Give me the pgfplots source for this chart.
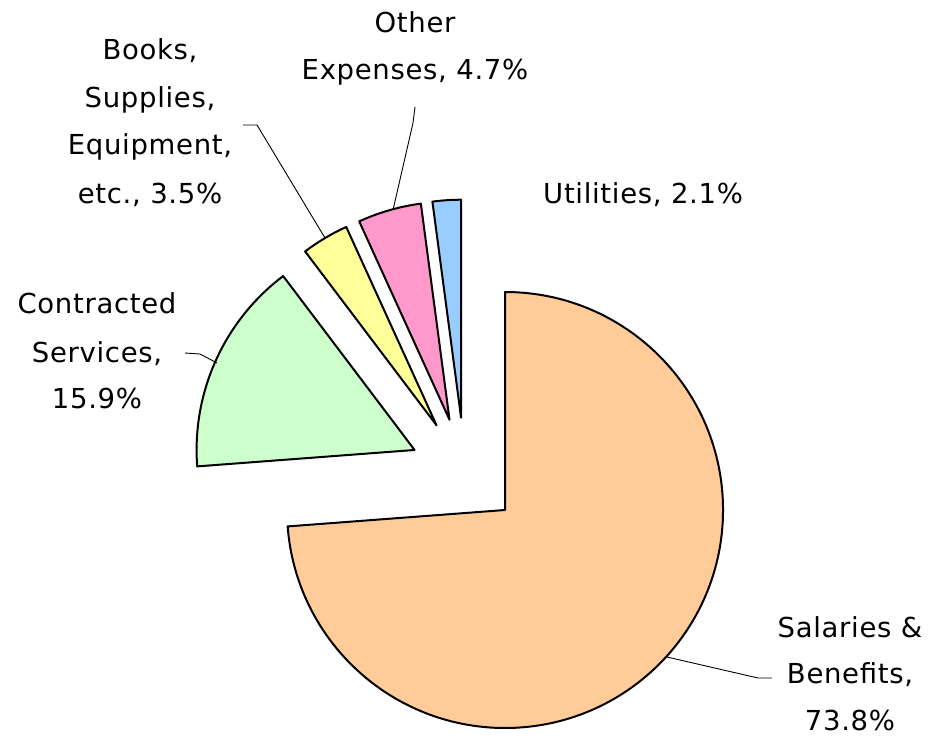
\documentclass[border=0pt]{standalone}
\usepackage{pgfplots}
\pgfplotsset{compat=1.18}
\usepackage{fontspec}
\setmainfont[LetterSpace=2.5]{DejaVu Sans}
\definecolor{salcol}{HTML}{FFCC99}
\definecolor{concol}{HTML}{CCFFCC}
\definecolor{bookcol}{HTML}{FFFF99}
\definecolor{othcol}{HTML}{FF99CC}
\definecolor{utilcol}{HTML}{99CCFF}
% cumulative-before (%), share (%), colour
\newcommand\slice[3]{%
  \pgfmathsetmacro\aS{90-3.6*#1}%
  \pgfmathsetmacro\aE{90-3.6*(#1+#2)}%
  \pgfmathsetmacro\aM{(\aS+\aE)/2}%
  \pgfmathsetmacro\vx{464.7+55*cos(\aM)}%
  \pgfmathsetmacro\vy{472.6-55*sin(\aM)}%
  \pgfmathsetmacro\px{\vx+218*cos(\aS)}%
  \pgfmathsetmacro\py{\vy-218*sin(\aS)}%
  \edef\temp{\noexpand\filldraw[fill=#3, draw=black, line width=2pt, line join=round]
    (axis cs:\vx,\vy) -- (axis cs:\px,\py) arc[start angle=\aS, end angle=\aE, radius=218pt] -- cycle;}%
  \temp}
\newcommand\lab[3]{\node[anchor=base, inner sep=0pt, font=\fontsize{27.5}{47}\selectfont] at (axis cs:#1,#2) {#3};}
\begin{document}
\begin{tikzpicture}
\begin{axis}[
  scale only axis, width=928pt, height=738pt,
  xmin=0, xmax=928, ymin=0, ymax=738, y dir=reverse,
  hide axis, clip=false]
\addplot[draw=none] coordinates {(0,0) (928,738)};
\slice{0}{73.8}{salcol}
\slice{73.8}{15.9}{concol}
\slice{89.7}{3.5}{bookcol}
\slice{93.2}{4.7}{othcol}
\slice{97.9}{2.1}{utilcol}
% leader lines
\draw[line width=0.9pt] (axis cs:415,107) -- (axis cs:413,123) -- (axis cs:393,210);
\draw[line width=0.9pt] (axis cs:243,125) -- (axis cs:257,125) -- (axis cs:325,238);
\draw[line width=0.9pt] (axis cs:185,353) -- (axis cs:200,354) -- (axis cs:217,363);
\draw[line width=0.9pt] (axis cs:772,678) -- (axis cs:758,678) -- (axis cs:667,657);
% labels
\lab{415}{33}{Other}
\lab{415}{80}{Expenses, 4.7\%}
\lab{150}{60}{Books,}
\lab{150}{108}{Supplies,}
\lab{150}{155}{Equipment,}
\lab{150}{203}{etc., 3.5\%}
\node[anchor=base west, inner sep=0pt, font=\fontsize{27.5}{47}\selectfont] at (axis cs:543,203) {Utilities, 2.1\%};
\lab{97}{313}{Contracted}
\lab{97}{362}{Services,}
\lab{97}{408}{15.9\%}
\lab{850}{637}{Salaries \&}
\lab{850}{683}{Benefits,}
\lab{850}{730}{73.8\%}
\end{axis}
\end{tikzpicture}
\end{document}
